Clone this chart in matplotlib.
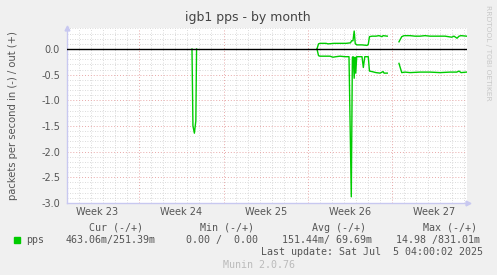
import numpy as np
import matplotlib
matplotlib.use("Agg")
import matplotlib.pyplot as plt

plt.rcParams['axes.unicode_minus'] = False
plt.rcParams['font.family'] = ['DejaVu Sans']

nan = np.nan

# time in days from the left edge of the graph
X_MAX = 33.22
week_lines = [6, 13, 20, 27]
week_label_pos = [2.5, 9.5, 16.5, 23.5, 30.5]
week_labels = ["Week 23", "Week 24", "Week 25", "Week 26", "Week 27"]
y_ticks = [0.0, -0.5, -1.0, -1.5, -2.0, -2.5, -3.0]

# "out" (+) series
out_t = [20.76, 20.89, 21.01, 21.51, 21.68, 22.18, 22.67, 23.17, 23.55, 23.63, 23.75,
         23.85, 23.94, 24.09, 24.50, 24.92, 25.02, 25.12, 25.33, 25.66, 25.91, 26.16,
         26.25, 26.60, 27.08,
         27.57, 27.80, 27.99, 28.49, 28.90, 29.32, 29.73, 30.15, 30.56, 30.98, 31.40,
         31.95, 32.14, 32.39, 32.56, 32.72, 33.18]
out_v = [0.00, 0.10, 0.11, 0.11, 0.10, 0.11, 0.11, 0.11, 0.12, 0.16, 0.16,
         0.35, 0.10, 0.08, 0.08, 0.07, 0.09, 0.24, 0.25, 0.25, 0.26, 0.24,
         0.26, 0.25, nan,
         0.14, 0.24, 0.26, 0.26, 0.25, 0.25, 0.26, 0.25, 0.25, 0.25, 0.25,
         0.23, 0.25, 0.21, 0.25, 0.26, 0.25]

# "in" (-) series
in_t = [10.38, 10.46, 10.58, 10.70, 10.76, 15.0,
        20.76, 20.89, 21.01, 21.84, 22.09, 22.34, 22.67, 23.09, 23.42, 23.61, 23.70,
        23.77, 23.85, 23.92, 23.98, 24.06, 24.50, 24.61, 24.73, 25.02, 25.12, 25.33,
        25.66, 26.00, 26.25, 26.33, 26.60, 27.08,
        27.57, 27.80, 28.07, 28.49, 29.32, 30.15, 30.98, 31.81, 32.37, 32.56, 32.72,
        33.18]
in_v = [0.00, -1.50, -1.64, -1.40, 0.00, nan,
        0.00, -0.13, -0.14, -0.14, -0.16, -0.15, -0.14, -0.15, -0.15, -2.88, -0.16,
        -0.15, -0.57, -0.16, -0.47, -0.15, -0.15, -0.36, -0.15, -0.15, -0.43, -0.44,
        -0.46, -0.47, -0.44, -0.47, -0.47, nan,
        -0.28, -0.46, -0.45, -0.46, -0.45, -0.45, -0.46, -0.45, -0.45, -0.43, -0.46,
        -0.45]

W, H = 497, 275
fig = plt.figure(figsize=(W / 100, H / 100), dpi=100)
fig.patch.set_facecolor('#F0F0F0')

L, R, T, B = 67, 467, 28, 203
ax = fig.add_axes([L / W, 1 - B / H, (R - L) / W, (B - T) / H])
ax.set_facecolor('#FFFFFF')
ax.set_xlim(0, X_MAX)
ax.set_ylim(-3.0, 0.409)

# grid
minor_c = '#CFCFCF'
major_c = '#E8A8A8'
for d in range(0, 34):
    if d not in week_lines:
        ax.axvline(d, color=minor_c, lw=0.6, ls=(0, (1, 2)), zorder=1)
for yv in np.arange(-3.0, 0.41, 0.1):
    if abs(round(yv * 2) - yv * 2) > 1e-6:
        ax.axhline(yv, color=minor_c, lw=0.6, ls=(0, (1, 2)), zorder=1)
for d in week_lines:
    ax.axvline(d, color=major_c, lw=0.7, ls=(0, (1, 2)), zorder=1.5)
for yv in y_ticks:
    ax.axhline(yv, color=major_c, lw=0.7, ls=(0, (1, 2)), zorder=1.5)

# data
ax.plot(out_t, out_v, color='#00CC00', lw=1.0, zorder=3)
ax.plot(in_t, in_v, color='#00CC00', lw=1.0, zorder=3)
ax.axhline(0, color='#000000', lw=1.0, zorder=4)

for s in ['top', 'right']:
    ax.spines[s].set_visible(False)
for s in ['left', 'bottom']:
    ax.spines[s].set_color('#C8C8F0')
    ax.spines[s].set_linewidth(1.0)

# axis arrows
ax.plot([0], [0.409], marker='^', color='#C8C8F0', markersize=3.5, clip_on=False,
        zorder=5)
ax.plot([X_MAX + 0.1], [-3.0], marker='>', color='#C8C8F0', markersize=3.5,
        clip_on=False, zorder=5)

ax.set_yticks(y_ticks)
ax.set_yticklabels(["%.1f" % v for v in y_ticks])
ax.set_xticks(week_label_pos)
ax.set_xticklabels(week_labels)
ax.tick_params(axis='both', length=0, labelsize=7, colors='#555555')
ax.tick_params(axis='y', pad=5)
ax.tick_params(axis='x', pad=3)

ax.set_ylabel("packets per second in (-) / out (+)", fontsize=7.2, color='#555555')
ax.yaxis.set_label_coords((18.5 - L) / (R - L), 0.5)

fig.text(248 / W, 1 - 18 / H, "igb1 pps - by month", ha='center', va='center',
         fontsize=9, color='#444444')
fig.text(488 / W, 1 - 53 / H, "RRDTOOL / TOBI OETIKER", rotation=-90, ha='center',
         va='center', fontsize=5.4, color='#C8C8C8')

mono = 'DejaVu Sans Mono'
fs = 7.2
tc = '#555555'

def put(xp, yp, s, color=tc, **kw):
    fig.text(xp / W, 1 - yp / H, s, ha='left', va='center', family=mono,
             fontsize=fs, color=color, **kw)

put(89, 228, "Cur (-/+)")
put(200, 228, "Min (-/+)")
put(312, 228, "Avg (-/+)")
put(423, 228, "Max (-/+)")

fig.patches.append(plt.Rectangle((14 / W, 1 - 242.5 / H), 6 / W, 6 / H,
                                 transform=fig.transFigure, color='#00CC00'))
put(26, 240, "pps")
put(66, 240, "463.06m/251.39m")
put(186, 240, "0.00 /  0.00")
put(282, 240, "151.44m/ 69.69m")
put(396, 240, "14.98 /831.01m")
put(261, 252, "Last update: Sat Jul  5 04:00:02 2025")
put(223, 265, "Munin 2.0.76", color='#BBBBBB')

fig.savefig("out.png", dpi=100, facecolor=fig.get_facecolor())
